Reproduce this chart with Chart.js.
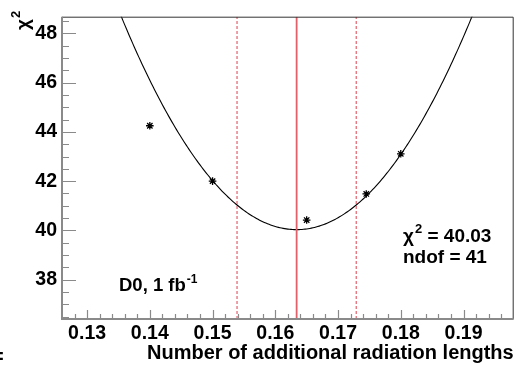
<!DOCTYPE html>
<html>
<head>
<meta charset="utf-8">
<script src="https://cdn.jsdelivr.net/npm/chart.js@4.4.1/dist/chart.umd.min.js"></script>
<style>
  html, body { margin: 0; padding: 0; background: #fff; }
  #wrap { width: 519px; height: 365px; position: relative; }
</style>
</head>
<body>
<div id="wrap"><canvas id="chi2scan"></canvas></div>
<script>
// chi2 scan versus the amount of extra material
const xTicks = [0.13, 0.14, 0.15, 0.16, 0.17, 0.18, 0.19];
const yTicks = [38, 40, 42, 44, 46, 48];
const xRange = [0.126, 0.198];
const yRange = [36.4, 48.68];

// scan points
const scanX = [0.14, 0.15, 0.165, 0.1745, 0.18];
const scanChi2 = [44.25, 42.0, 40.42, 41.48, 43.11];

// parabola fit: best value, one-sigma error, minimum chi2
const fitBest = 0.1634;
const fitError = 0.0095;
const fitChi2 = 40.03;
const fitNdof = 41;

const FONT = '"Liberation Sans", Arial, Helvetica, sans-serif';
const AXIS_GREY = '#8a8a8a';
const RED = '#e2606a';

function fitCurve() {
  const pts = [];
  for (let i = 0; i <= 288; i++) {
    const x = xRange[0] + (xRange[1] - xRange[0]) * i / 288;
    const d = (x - fitBest) / fitError;
    pts.push({ x: x, y: fitChi2 + d * d });
  }
  return pts;
}

function vline(x) {
  return [{ x: x, y: yRange[0] }, { x: x, y: yRange[1] }];
}

// draws "base" followed by a raised small "sup", returns the end x
function supText(ctx, base, sup, x, y, size) {
  ctx.font = 'bold ' + size + 'px ' + FONT;
  ctx.fillText(base, x, y);
  const w = ctx.measureText(base).width;
  ctx.font = 'bold ' + Math.round(size * 0.66) + 'px ' + FONT;
  ctx.fillText(sup, x + w + 1, y - size * 0.45);
  return x + w + 1 + ctx.measureText(sup).width;
}

// ROOT-style frame with ticks pointing inwards, plus text labels
const framePlugin = {
  id: 'frame',
  afterDatasetsDraw(chart) {
    const { ctx, chartArea: a, scales } = chart;
    const xs = scales.x, ys = scales.y;
    ctx.save();

    // top and right edges
    ctx.strokeStyle = '#333';
    ctx.lineWidth = 1;
    ctx.beginPath();
    ctx.moveTo(a.left, a.top + 0.5);
    ctx.lineTo(a.right - 0.5, a.top + 0.5);
    ctx.lineTo(a.right - 0.5, a.bottom);
    ctx.stroke();

    // axes
    ctx.strokeStyle = AXIS_GREY;
    ctx.lineWidth = 2;
    ctx.beginPath();
    ctx.moveTo(a.left, a.top);
    ctx.lineTo(a.left, a.bottom);
    ctx.lineTo(a.right, a.bottom);
    ctx.stroke();

    ctx.lineWidth = 1.2;
    ctx.beginPath();
    for (let v = 36.5; v <= yRange[1] + 1e-9; v += 0.5) {
      const y = Math.round(ys.getPixelForValue(v)) + 0.5;
      const major = Math.abs(v / 2 - Math.round(v / 2)) < 1e-6;
      ctx.moveTo(a.left, y);
      ctx.lineTo(a.left + (major ? 14 : 7), y);
    }
    for (let k = 64; k <= 98; k++) {
      const v = k * 0.002;
      if (v < xRange[0] || v > xRange[1]) continue;
      const x = Math.round(xs.getPixelForValue(v)) + 0.5;
      const major = k % 5 === 0;
      ctx.moveTo(x, a.bottom);
      ctx.lineTo(x, a.bottom - (major ? 9 : 5));
    }
    ctx.stroke();

    ctx.fillStyle = '#000';
    ctx.textBaseline = 'alphabetic';
    ctx.textAlign = 'left';

    // y axis title, rotated
    ctx.save();
    ctx.translate(29, 30);
    ctx.rotate(-Math.PI / 2);
    supText(ctx, 'χ', '2', 0, 0, 19);
    ctx.restore();

    // x axis title
    ctx.font = 'bold 20px ' + FONT;
    ctx.textAlign = 'right';
    ctx.fillText('Number of additional radiation lengths', a.right, 359);

    // fragment at the lower left corner
    ctx.textAlign = 'left';
    ctx.fillText('=', -8, 363);

    // luminosity label
    supText(ctx, 'D0, 1 fb', '-1', 119, 291, 18.5);

    // fit result
    const ex = supText(ctx, 'χ', '2', 403, 242, 19);
    ctx.font = 'bold 19px ' + FONT;
    ctx.fillText(' = ' + fitChi2.toFixed(2), ex, 242);
    ctx.fillText('ndof = ' + fitNdof, 403, 263);

    ctx.restore();
  }
};

new Chart(document.getElementById('chi2scan').getContext('2d'), {
  type: 'scatter',
  data: {
    datasets: [
      {
        label: 'best',
        data: vline(fitBest),
        showLine: true,
        borderColor: RED,
        borderWidth: 1.8,
        pointRadius: 0
      },
      {
        label: 'minus',
        data: vline(fitBest - fitError),
        showLine: true,
        borderColor: RED,
        borderWidth: 1.2,
        borderDash: [3, 2],
        pointRadius: 0
      },
      {
        label: 'plus',
        data: vline(fitBest + fitError),
        showLine: true,
        borderColor: RED,
        borderWidth: 1.2,
        borderDash: [3, 2],
        pointRadius: 0
      },
      {
        label: 'fit',
        data: fitCurve(),
        showLine: true,
        borderColor: '#000',
        borderWidth: 1.1,
        pointRadius: 0
      },
      {
        label: 'scan',
        data: scanX.map((x, i) => ({ x: x, y: scanChi2[i] })),
        showLine: false,
        pointStyle: 'star',
        pointRadius: 3.8,
        borderColor: '#000',
        borderWidth: 1.3,
        backgroundColor: '#000'
      }
    ]
  },
  options: {
    responsive: true,
    maintainAspectRatio: false,
    animation: false,
    layout: { padding: { left: 0, top: 11, right: 1, bottom: 0 } },
    plugins: {
      legend: { display: false },
      tooltip: { enabled: false }
    },
    scales: {
      x: {
        type: 'linear',
        min: xRange[0],
        max: xRange[1],
        afterFit: s => { s.height = 46; },
        afterBuildTicks: s => { s.ticks = xTicks.map(v => ({ value: v })); },
        grid: { display: false, drawTicks: false },
        border: { display: false },
        ticks: {
          padding: 3,
          color: '#000',
          font: { family: FONT, size: 19.5, weight: 'bold' },
          callback: v => v.toFixed(2),
          maxRotation: 0,
          autoSkip: false
        }
      },
      y: {
        type: 'linear',
        min: yRange[0],
        max: yRange[1],
        afterFit: s => { s.width = 62; },
        afterBuildTicks: s => { s.ticks = yTicks.map(v => ({ value: v })); },
        grid: { display: false, drawTicks: false },
        border: { display: false },
        ticks: {
          padding: 5,
          color: '#000',
          font: { family: FONT, size: 19.5, weight: 'bold' },
          callback: v => String(v),
          autoSkip: false
        }
      }
    }
  },
  plugins: [framePlugin]
});
</script>
</body>
</html>
